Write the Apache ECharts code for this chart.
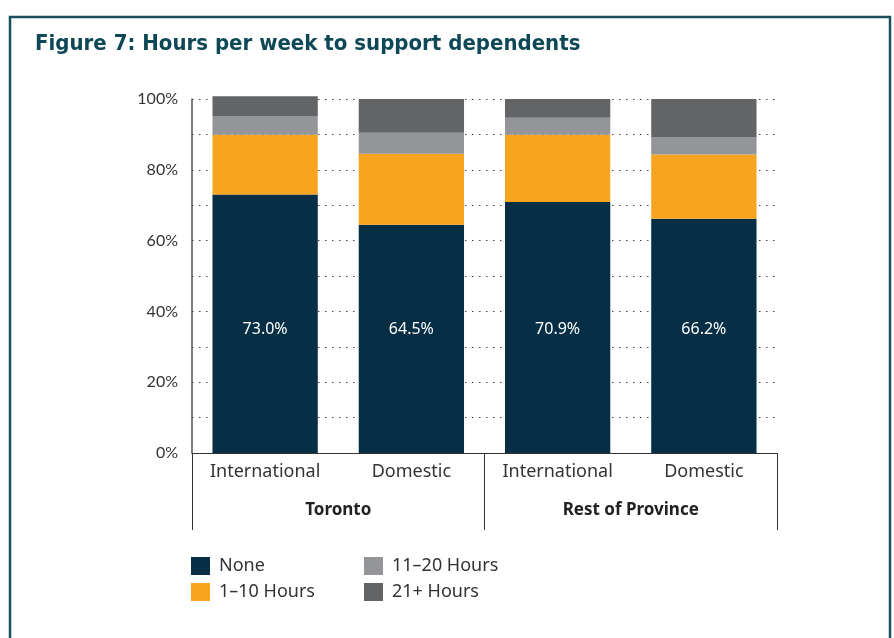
<!DOCTYPE html>
<html>
<head>
<meta charset="utf-8">
<script src="https://cdn.jsdelivr.net/npm/echarts@6/dist/echarts.min.js"></script>
<style>
  html, body { margin: 0; padding: 0; background: #fff; }
  #chart { width: 894px; height: 638px; }
</style>
</head>
<body>
<div id="chart"></div>
<script>
// categories
const groups = ['Toronto', 'Rest of Province']
const categories = ['International', 'Domestic', 'International', 'Domestic']

// shares in percent
const none = [73.0, 64.5, 70.9, 66.2]
const hours1to10 = [16.9, 20.0, 19.0, 18.1]
const hours11to20 = [5.3, 6.0, 4.8, 4.8]
const hours21plus = [5.6, 9.5, 5.3, 10.9]

const seriesNames = ['None', '1–10 Hours', '11–20 Hours', '21+ Hours']
const colors = ['#062f45', '#f7a51e', '#939598', '#636466']

const chart = echarts.init(document.getElementById('chart'))

const labelFont = "'Noto Sans', sans-serif"

function barSerie(name, data, i) {
  const s = {
    name: name,
    type: 'bar',
    stack: 'total',
    barWidth: '72%',
    clip: false,
    data: data,
    itemStyle: { color: colors[i] },
    emphasis: { disabled: true },
    animation: false
  }
  if (i === 0) {
    s.label = {
      show: true,
      position: 'insideBottom',
      distance: 116,
      color: '#fff',
      fontSize: 16,
      fontFamily: labelFont,
      formatter: p => p.value.toFixed(1) + '%'
    }
  }
  return s
}

const legendText = { fontSize: 18, color: '#333', fontFamily: labelFont, padding: [0, 0, 0, 4] }

const option = {
  backgroundColor: '#fff',
  title: {
    text: 'Figure 7: Hours per week to support dependents',
    left: 30,
    top: 28,
    textStyle: {
      fontSize: 22,
      fontWeight: 'bold',
      color: '#0e4856',
      fontFamily: "'Liberation Sans Narrow', 'DejaVu Sans Condensed', sans-serif"
    }
  },
  graphic: [{
    type: 'rect',
    shape: { x: 10, y: 17, width: 880, height: 660 },
    style: { fill: 'none', stroke: '#1c4f5e', lineWidth: 2.5 },
    silent: true
  }],
  legend: [{
    data: seriesNames.slice(0, 2),
    orient: 'vertical',
    left: 191,
    top: 557,
    padding: 0,
    itemWidth: 19,
    itemHeight: 18,
    itemGap: 8,
    icon: 'rect',
    selectedMode: false,
    textStyle: legendText
  }, {
    data: seriesNames.slice(2),
    orient: 'vertical',
    left: 364,
    top: 557,
    padding: 0,
    itemWidth: 19,
    itemHeight: 18,
    itemGap: 8,
    icon: 'rect',
    selectedMode: false,
    textStyle: legendText
  }],
  grid: {
    left: 192,
    right: 117,
    top: 99,
    bottom: 185
  },
  xAxis: [{
    type: 'category',
    data: categories,
    axisLine: { lineStyle: { color: '#333', width: 1 } },
    axisTick: { show: false },
    axisLabel: { fontSize: 18, color: '#333', margin: 10, fontFamily: labelFont }
  }, {
    type: 'category',
    data: groups,
    position: 'bottom',
    axisLine: { show: false },
    axisTick: { show: true, length: 77, lineStyle: { color: '#333' } },
    axisLabel: { fontSize: 17, fontWeight: 'bold', color: '#222', margin: 49, fontFamily: labelFont }
  }],
  yAxis: {
    type: 'value',
    min: 0,
    max: 100,
    interval: 20,
    axisLine: { show: true, lineStyle: { color: '#555', width: 1.5 } },
    axisTick: { show: false },
    axisLabel: {
      formatter: '{value}%',
      fontSize: 16,
      color: '#333',
      margin: 14,
      fontFamily: "'Lato', sans-serif"
    },
    splitLine: { lineStyle: { type: [1.5, 5.5], color: '#444', width: 1.2 } },
    minorTick: { show: false, splitNumber: 2 },
    minorSplitLine: { show: true, lineStyle: { type: [1.5, 5.5], color: '#444', width: 1.2 } }
  },
  series: [
    barSerie(seriesNames[0], none, 0),
    barSerie(seriesNames[1], hours1to10, 1),
    barSerie(seriesNames[2], hours11to20, 2),
    barSerie(seriesNames[3], hours21plus, 3)
  ]
}

chart.setOption(option)
</script>
</body>
</html>
